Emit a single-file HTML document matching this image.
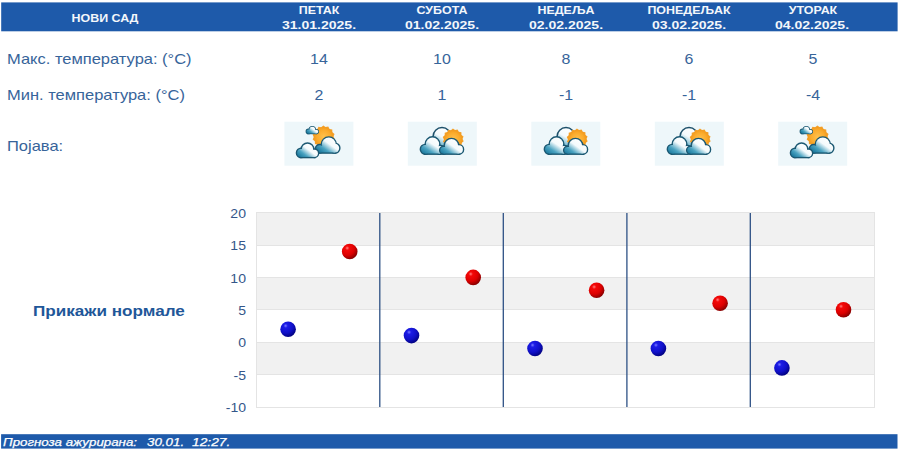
<!DOCTYPE html>
<html><head><meta charset="utf-8">
<style>
html,body{margin:0;padding:0;background:#fff;}
body{width:900px;height:450px;position:relative;overflow:hidden;font-family:"Liberation Sans",sans-serif;color:#37649a;}
.abs{position:absolute;}
#hdr{left:1px;top:2px;width:897px;height:29px;background:#1f5bab;}
.hn,.hd{position:absolute;width:200px;margin-left:-100px;color:#f4f7fb;font-weight:bold;font-size:11.5px;line-height:14px;text-align:center;white-space:nowrap;}
.hn{top:3.3px;transform:scaleX(1.08);}
.hd{top:18.3px;transform:scaleX(1.22);}
.lbl{position:absolute;left:7px;font-size:14.5px;line-height:18px;white-space:nowrap;transform-origin:0 0;transform:scaleX(1.137);}
.val{position:absolute;width:100px;margin-left:-50px;text-align:center;font-size:14.5px;line-height:18px;transform:scaleX(1.1);}
.ico{position:absolute;top:122px;width:69px;height:44px;background:#eef7fa;}
#ftr{left:1px;top:434px;width:899px;height:15px;background:#1f5bab;}
.ft{color:#fff;font-style:italic;font-size:11.5px;line-height:15px;white-space:pre;transform-origin:0 0;top:435px;-webkit-text-stroke:0.25px #fff;}
.yl{position:absolute;width:40px;text-align:right;font-size:13.5px;line-height:14px;left:206.3px;color:#34578a;transform-origin:100% 50%;transform:scaleX(1.04);}
</style></head><body>
<svg class="abs" style="left:0;top:0" width="900" height="450"><rect x="1.2" y="2.4" width="896.4" height="28.9" fill="#1e5aaa"/><rect x="1.1" y="434.2" width="896.4" height="14.4" fill="#1e5aaa"/><rect x="284.4" y="121.7" width="69" height="44" fill="#eef7fa"/><rect x="407.8" y="121.7" width="69" height="44" fill="#eef7fa"/><rect x="531.3" y="121.7" width="69" height="44" fill="#eef7fa"/><rect x="654.8" y="121.7" width="69" height="44" fill="#eef7fa"/><rect x="778.2" y="121.7" width="69" height="44" fill="#eef7fa"/></svg>
<div class="hn" style="left:105px;top:10.5px;">НОВИ САД</div>
<div class="hn" style="left:319px;">ПЕТАК</div><div class="hd" style="left:318.7px;">31.01.2025.</div>
<div class="hn" style="left:442px;">СУБОТА</div><div class="hd" style="left:442.1px;">01.02.2025.</div>
<div class="hn" style="left:566px;">НЕДЕЉА</div><div class="hd" style="left:565.5px;">02.02.2025.</div>
<div class="hn" style="left:689px;">ПОНЕДЕЉАК</div><div class="hd" style="left:689px;">03.02.2025.</div>
<div class="hn" style="left:812.5px;">УТОРАК</div><div class="hd" style="left:812.4px;">04.02.2025.</div>

<div class="lbl" style="top:50px;">Макс. температура: (°C)</div>
<div class="lbl" style="top:86px;">Мин. температура: (°C)</div>
<div class="lbl" style="top:137px;">Појава:</div>

<div class="val" style="left:319px;top:50px;">14</div>
<div class="val" style="left:442px;top:50px;">10</div>
<div class="val" style="left:566px;top:50px;">8</div>
<div class="val" style="left:689px;top:50px;">6</div>
<div class="val" style="left:812.5px;top:50px;">5</div>
<div class="val" style="left:319px;top:86px;">2</div>
<div class="val" style="left:442px;top:86px;">1</div>
<div class="val" style="left:566px;top:86px;">-1</div>
<div class="val" style="left:689px;top:86px;">-1</div>
<div class="val" style="left:812.5px;top:86px;">-4</div>


<svg class="abs" style="left:0;top:0" width="900" height="450" viewBox="0 0 900 450"><defs><radialGradient id="sg" cx="0.5" cy="0.5" r="0.5"><stop offset="0" stop-color="#ffc14d"/><stop offset="0.7" stop-color="#fbab2c"/><stop offset="1" stop-color="#f29a1e"/></radialGradient><linearGradient id="a1" gradientUnits="userSpaceOnUse" x1="31.0" y1="4.0" x2="24.0" y2="13.0"><stop offset="0" stop-color="#ffffff"/><stop offset="0.38" stop-color="#f4fafc"/><stop offset="0.68" stop-color="#4aa3c1"/><stop offset="1" stop-color="#0c6c92"/></linearGradient><linearGradient id="a2" gradientUnits="userSpaceOnUse" x1="49.0" y1="15.0" x2="36.0" y2="33.0"><stop offset="0" stop-color="#ffffff"/><stop offset="0.38" stop-color="#f4fafc"/><stop offset="0.68" stop-color="#4aa3c1"/><stop offset="1" stop-color="#0c6c92"/></linearGradient><linearGradient id="a3" gradientUnits="userSpaceOnUse" x1="27.0" y1="21.0" x2="15.0" y2="37.0"><stop offset="0" stop-color="#ffffff"/><stop offset="0.38" stop-color="#f4fafc"/><stop offset="0.68" stop-color="#4aa3c1"/><stop offset="1" stop-color="#0c6c92"/></linearGradient><linearGradient id="b1" gradientUnits="userSpaceOnUse" x1="42.0" y1="5.0" x2="26.0" y2="34.0"><stop offset="0" stop-color="#ffffff"/><stop offset="0.38" stop-color="#f4fafc"/><stop offset="0.68" stop-color="#4aa3c1"/><stop offset="1" stop-color="#0c6c92"/></linearGradient><linearGradient id="b2" gradientUnits="userSpaceOnUse" x1="30.0" y1="15.0" x2="17.0" y2="35.0"><stop offset="0" stop-color="#ffffff"/><stop offset="0.38" stop-color="#f4fafc"/><stop offset="0.68" stop-color="#4aa3c1"/><stop offset="1" stop-color="#0c6c92"/></linearGradient><linearGradient id="b3" gradientUnits="userSpaceOnUse" x1="49.0" y1="17.0" x2="36.0" y2="35.0"><stop offset="0" stop-color="#ffffff"/><stop offset="0.38" stop-color="#f4fafc"/><stop offset="0.68" stop-color="#4aa3c1"/><stop offset="1" stop-color="#0c6c92"/></linearGradient></defs><g transform="translate(285,122)"><polygon points="49.67,17.04 47.62,18.88 47.60,21.63 44.96,22.39 43.75,24.86 41.04,24.40 38.88,26.10 36.63,24.50 33.95,25.10 32.62,22.69 29.94,22.06 29.79,19.31 27.65,17.58 28.70,15.04 27.53,12.56 29.58,10.72 29.60,7.97 32.24,7.21 33.45,4.74 36.16,5.20 38.32,3.50 40.57,5.10 43.25,4.50 44.58,6.91 47.26,7.54 47.41,10.29 49.55,12.02 48.50,14.56" fill="#f3a02a"/><circle cx="38.60" cy="14.80" r="9.70" fill="url(#sg)"/><g stroke="#1b5872" stroke-width="1.60" fill="#1b5872"><circle cx="27.30" cy="7.60" r="2.90"/><circle cx="23.40" cy="9.40" r="2.00"/><circle cx="31.30" cy="9.60" r="1.90"/><rect x="23.40" y="8.40" width="7.90" height="3.00"/></g><g fill="url(#a1)"><circle cx="27.30" cy="7.60" r="2.90"/><circle cx="23.40" cy="9.40" r="2.00"/><circle cx="31.30" cy="9.60" r="1.90"/><rect x="23.40" y="8.40" width="7.90" height="3.00"/></g><g stroke="#1b5872" stroke-width="2.80" fill="#1b5872"><circle cx="43.80" cy="22.50" r="6.90"/><circle cx="49.90" cy="26.10" r="4.30"/><circle cx="34.70" cy="26.80" r="3.60"/><rect x="34.70" y="24.00" width="15.20" height="6.40"/></g><g fill="url(#a2)"><circle cx="43.80" cy="22.50" r="6.90"/><circle cx="49.90" cy="26.10" r="4.30"/><circle cx="34.70" cy="26.80" r="3.60"/><rect x="34.70" y="24.00" width="15.20" height="6.40"/></g><g stroke="#1b5872" stroke-width="2.80" fill="#1b5872"><circle cx="22.50" cy="27.30" r="5.60"/><circle cx="16.10" cy="30.90" r="4.00"/><circle cx="29.30" cy="31.30" r="3.60"/><rect x="16.10" y="30.00" width="13.20" height="4.90"/></g><g fill="url(#a3)"><circle cx="22.50" cy="27.30" r="5.60"/><circle cx="16.10" cy="30.90" r="4.00"/><circle cx="29.30" cy="31.30" r="3.60"/><rect x="16.10" y="30.00" width="13.20" height="4.90"/></g></g><g transform="translate(408,122)"><g stroke="#1d506a" stroke-width="3.00" fill="#1d506a"><circle cx="34.00" cy="14.50" r="8.20"/><rect x="30.00" y="15.00" width="8.00" height="10.00"/></g><g fill="url(#b1)"><circle cx="34.00" cy="14.50" r="8.20"/><rect x="30.00" y="15.00" width="8.00" height="10.00"/></g><polygon points="55.69,19.33 53.67,21.03 53.73,23.67 51.17,24.33 50.08,26.72 47.49,26.21 45.46,27.90 43.35,26.31 40.79,26.95 39.58,24.61 37.00,24.07 36.92,21.44 34.83,19.83 35.90,17.43 34.71,15.07 36.73,13.37 36.67,10.73 39.23,10.07 40.32,7.68 42.91,8.19 44.94,6.50 47.05,8.09 49.61,7.45 50.82,9.79 53.40,10.33 53.48,12.96 55.57,14.57 54.50,16.97" fill="#f3a02a"/><circle cx="45.20" cy="17.20" r="9.10" fill="url(#sg)"/><g stroke="#1b5872" stroke-width="2.80" fill="#1b5872"><circle cx="24.50" cy="22.10" r="6.60"/><circle cx="17.20" cy="27.30" r="4.20"/><circle cx="32.00" cy="27.70" r="3.80"/><rect x="17.20" y="25.00" width="14.80" height="6.50"/></g><g fill="url(#b2)"><circle cx="24.50" cy="22.10" r="6.60"/><circle cx="17.20" cy="27.30" r="4.20"/><circle cx="32.00" cy="27.70" r="3.80"/><rect x="17.20" y="25.00" width="14.80" height="6.50"/></g><g stroke="#1b5872" stroke-width="2.80" fill="#1b5872"><circle cx="43.50" cy="23.70" r="6.60"/><circle cx="50.80" cy="27.40" r="4.10"/><circle cx="35.60" cy="28.20" r="3.30"/><rect x="35.60" y="25.00" width="15.20" height="6.50"/></g><g fill="url(#b3)"><circle cx="43.50" cy="23.70" r="6.60"/><circle cx="50.80" cy="27.40" r="4.10"/><circle cx="35.60" cy="28.20" r="3.30"/><rect x="35.60" y="25.00" width="15.20" height="6.50"/></g></g><g transform="translate(532,122)"><g stroke="#1d506a" stroke-width="3.00" fill="#1d506a"><circle cx="34.00" cy="14.50" r="8.20"/><rect x="30.00" y="15.00" width="8.00" height="10.00"/></g><g fill="url(#b1)"><circle cx="34.00" cy="14.50" r="8.20"/><rect x="30.00" y="15.00" width="8.00" height="10.00"/></g><polygon points="55.69,19.33 53.67,21.03 53.73,23.67 51.17,24.33 50.08,26.72 47.49,26.21 45.46,27.90 43.35,26.31 40.79,26.95 39.58,24.61 37.00,24.07 36.92,21.44 34.83,19.83 35.90,17.43 34.71,15.07 36.73,13.37 36.67,10.73 39.23,10.07 40.32,7.68 42.91,8.19 44.94,6.50 47.05,8.09 49.61,7.45 50.82,9.79 53.40,10.33 53.48,12.96 55.57,14.57 54.50,16.97" fill="#f3a02a"/><circle cx="45.20" cy="17.20" r="9.10" fill="url(#sg)"/><g stroke="#1b5872" stroke-width="2.80" fill="#1b5872"><circle cx="24.50" cy="22.10" r="6.60"/><circle cx="17.20" cy="27.30" r="4.20"/><circle cx="32.00" cy="27.70" r="3.80"/><rect x="17.20" y="25.00" width="14.80" height="6.50"/></g><g fill="url(#b2)"><circle cx="24.50" cy="22.10" r="6.60"/><circle cx="17.20" cy="27.30" r="4.20"/><circle cx="32.00" cy="27.70" r="3.80"/><rect x="17.20" y="25.00" width="14.80" height="6.50"/></g><g stroke="#1b5872" stroke-width="2.80" fill="#1b5872"><circle cx="43.50" cy="23.70" r="6.60"/><circle cx="50.80" cy="27.40" r="4.10"/><circle cx="35.60" cy="28.20" r="3.30"/><rect x="35.60" y="25.00" width="15.20" height="6.50"/></g><g fill="url(#b3)"><circle cx="43.50" cy="23.70" r="6.60"/><circle cx="50.80" cy="27.40" r="4.10"/><circle cx="35.60" cy="28.20" r="3.30"/><rect x="35.60" y="25.00" width="15.20" height="6.50"/></g></g><g transform="translate(655,122)"><g stroke="#1d506a" stroke-width="3.00" fill="#1d506a"><circle cx="34.00" cy="14.50" r="8.20"/><rect x="30.00" y="15.00" width="8.00" height="10.00"/></g><g fill="url(#b1)"><circle cx="34.00" cy="14.50" r="8.20"/><rect x="30.00" y="15.00" width="8.00" height="10.00"/></g><polygon points="55.69,19.33 53.67,21.03 53.73,23.67 51.17,24.33 50.08,26.72 47.49,26.21 45.46,27.90 43.35,26.31 40.79,26.95 39.58,24.61 37.00,24.07 36.92,21.44 34.83,19.83 35.90,17.43 34.71,15.07 36.73,13.37 36.67,10.73 39.23,10.07 40.32,7.68 42.91,8.19 44.94,6.50 47.05,8.09 49.61,7.45 50.82,9.79 53.40,10.33 53.48,12.96 55.57,14.57 54.50,16.97" fill="#f3a02a"/><circle cx="45.20" cy="17.20" r="9.10" fill="url(#sg)"/><g stroke="#1b5872" stroke-width="2.80" fill="#1b5872"><circle cx="24.50" cy="22.10" r="6.60"/><circle cx="17.20" cy="27.30" r="4.20"/><circle cx="32.00" cy="27.70" r="3.80"/><rect x="17.20" y="25.00" width="14.80" height="6.50"/></g><g fill="url(#b2)"><circle cx="24.50" cy="22.10" r="6.60"/><circle cx="17.20" cy="27.30" r="4.20"/><circle cx="32.00" cy="27.70" r="3.80"/><rect x="17.20" y="25.00" width="14.80" height="6.50"/></g><g stroke="#1b5872" stroke-width="2.80" fill="#1b5872"><circle cx="43.50" cy="23.70" r="6.60"/><circle cx="50.80" cy="27.40" r="4.10"/><circle cx="35.60" cy="28.20" r="3.30"/><rect x="35.60" y="25.00" width="15.20" height="6.50"/></g><g fill="url(#b3)"><circle cx="43.50" cy="23.70" r="6.60"/><circle cx="50.80" cy="27.40" r="4.10"/><circle cx="35.60" cy="28.20" r="3.30"/><rect x="35.60" y="25.00" width="15.20" height="6.50"/></g></g><g transform="translate(779,122)"><polygon points="49.67,17.04 47.62,18.88 47.60,21.63 44.96,22.39 43.75,24.86 41.04,24.40 38.88,26.10 36.63,24.50 33.95,25.10 32.62,22.69 29.94,22.06 29.79,19.31 27.65,17.58 28.70,15.04 27.53,12.56 29.58,10.72 29.60,7.97 32.24,7.21 33.45,4.74 36.16,5.20 38.32,3.50 40.57,5.10 43.25,4.50 44.58,6.91 47.26,7.54 47.41,10.29 49.55,12.02 48.50,14.56" fill="#f3a02a"/><circle cx="38.60" cy="14.80" r="9.70" fill="url(#sg)"/><g stroke="#1b5872" stroke-width="1.60" fill="#1b5872"><circle cx="27.30" cy="7.60" r="2.90"/><circle cx="23.40" cy="9.40" r="2.00"/><circle cx="31.30" cy="9.60" r="1.90"/><rect x="23.40" y="8.40" width="7.90" height="3.00"/></g><g fill="url(#a1)"><circle cx="27.30" cy="7.60" r="2.90"/><circle cx="23.40" cy="9.40" r="2.00"/><circle cx="31.30" cy="9.60" r="1.90"/><rect x="23.40" y="8.40" width="7.90" height="3.00"/></g><g stroke="#1b5872" stroke-width="2.80" fill="#1b5872"><circle cx="43.80" cy="22.50" r="6.90"/><circle cx="49.90" cy="26.10" r="4.30"/><circle cx="34.70" cy="26.80" r="3.60"/><rect x="34.70" y="24.00" width="15.20" height="6.40"/></g><g fill="url(#a2)"><circle cx="43.80" cy="22.50" r="6.90"/><circle cx="49.90" cy="26.10" r="4.30"/><circle cx="34.70" cy="26.80" r="3.60"/><rect x="34.70" y="24.00" width="15.20" height="6.40"/></g><g stroke="#1b5872" stroke-width="2.80" fill="#1b5872"><circle cx="22.50" cy="27.30" r="5.60"/><circle cx="16.10" cy="30.90" r="4.00"/><circle cx="29.30" cy="31.30" r="3.60"/><rect x="16.10" y="30.00" width="13.20" height="4.90"/></g><g fill="url(#a3)"><circle cx="22.50" cy="27.30" r="5.60"/><circle cx="16.10" cy="30.90" r="4.00"/><circle cx="29.30" cy="31.30" r="3.60"/><rect x="16.10" y="30.00" width="13.20" height="4.90"/></g></g></svg>
<div class="abs" style="left:33px;top:302px;font-weight:bold;font-size:14.5px;line-height:18px;color:#1f5799;white-space:nowrap;transform-origin:0 0;transform:scaleX(1.18);">Прикажи нормале</div>

<svg class="abs" style="left:0;top:0" width="900" height="450" viewBox="0 0 900 450">
<defs>
<radialGradient id="gb" cx="0.36" cy="0.3" r="0.75" fx="0.34" fy="0.28"><stop offset="0" stop-color="#7a7aff"/><stop offset="0.18" stop-color="#1c1ce6"/><stop offset="0.6" stop-color="#1010c8"/><stop offset="1" stop-color="#000078"/></radialGradient>
<radialGradient id="gr" cx="0.36" cy="0.3" r="0.75" fx="0.34" fy="0.28"><stop offset="0" stop-color="#ff8080"/><stop offset="0.18" stop-color="#f40808"/><stop offset="0.6" stop-color="#dc0000"/><stop offset="1" stop-color="#7c0000"/></radialGradient>
</defs>
<g shape-rendering="crispEdges">
<rect x="256" y="212" width="619" height="196" fill="#e4e4e4"/>
<rect x="257" y="213" width="617" height="194" fill="#fff"/>
<rect x="257" y="213" width="617" height="32" fill="#f1f1f1"/>
<rect x="257" y="278" width="617" height="32" fill="#f1f1f1"/>
<rect x="257" y="343" width="617" height="31" fill="#f1f1f1"/>
<g stroke="#e4e4e4"><line x1="257" x2="874" y1="245.5" y2="245.5"/><line x1="257" x2="874" y1="277.5" y2="277.5"/><line x1="257" x2="874" y1="309.5" y2="309.5"/><line x1="257" x2="874" y1="342.5" y2="342.5"/><line x1="257" x2="874" y1="374.5" y2="374.5"/></g>
</g>
<g stroke="#2d5084" stroke-width="1.3"><line x1="379.8" x2="379.8" y1="213" y2="407"/><line x1="503.3" x2="503.3" y1="213" y2="407"/><line x1="626.9" x2="626.9" y1="213" y2="407"/><line x1="750.3" x2="750.3" y1="213" y2="407"/></g>
<g>
<circle cx="288.1" cy="329.2" r="7.8" fill="url(#gb)"/>
<circle cx="411.5" cy="335.6" r="7.8" fill="url(#gb)"/>
<circle cx="535.0" cy="348.5" r="7.8" fill="url(#gb)"/>
<circle cx="658.4" cy="348.5" r="7.8" fill="url(#gb)"/>
<circle cx="781.9" cy="367.9" r="7.8" fill="url(#gb)"/>
<circle cx="349.7" cy="251.5" r="7.8" fill="url(#gr)"/>
<circle cx="473.2" cy="277.4" r="7.8" fill="url(#gr)"/>
<circle cx="596.6" cy="290.3" r="7.8" fill="url(#gr)"/>
<circle cx="720.1" cy="303.2" r="7.8" fill="url(#gr)"/>
<circle cx="843.5" cy="309.7" r="7.8" fill="url(#gr)"/>
</g>
</svg>
<div class="yl" style="top:207.0px;">20</div>
<div class="yl" style="top:239.3px;">15</div>
<div class="yl" style="top:271.6px;">10</div>
<div class="yl" style="top:303.9px;">5</div>
<div class="yl" style="top:336.2px;">0</div>
<div class="yl" style="top:368.5px;">-5</div>
<div class="yl" style="top:400.8px;">-10</div>

<div class="abs ft" style="left:2.5px;transform:scaleX(1.156);">Прогноза ажурирана:</div>
<div class="abs ft" style="left:147px;transform:scaleX(1.16);">30.01.</div>
<div class="abs ft" style="left:192.3px;transform:scaleX(1.2);">12:27.</div>
</body></html>
